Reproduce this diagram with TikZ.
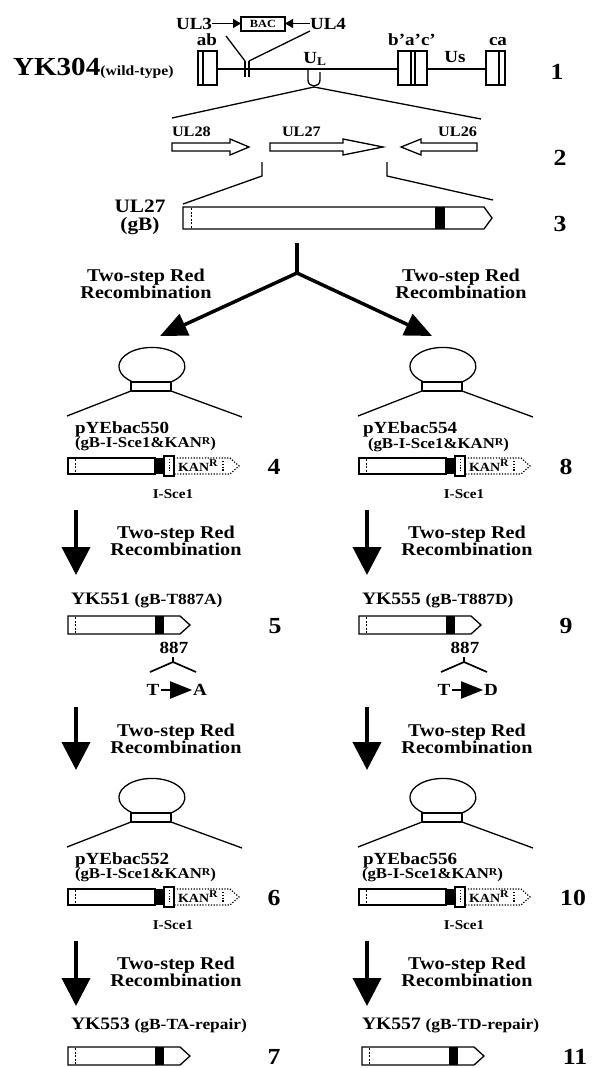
\documentclass[tikz,border=0pt]{standalone}
\usepackage{fontspec}
\setmainfont{Liberation Serif}[FakeStretch=1.12]
\usetikzlibrary{arrows.meta}
\newcommand\fsz[1]{\fontsize{#1}{#1}\selectfont}
\tikzset{
  tx/.style={font=\bfseries\fsz{#1}, inner sep=0pt, outer sep=0pt},
  ln/.style={line width=1.3pt},
  dotl/.style={line width=1.2pt, dash pattern=on 1.2pt off 1.6pt},
  dashl/.style={line width=0.5pt, dash pattern=on 2pt off 1.5pt},
  bigarr/.style={line width=3.5pt, -{Triangle[length=27pt,width=23pt]}},
  downarr/.style={line width=4pt, -{Triangle[length=28pt,width=28pt]}},
  smallarr/.style={line width=1.3pt, -{Triangle[length=8pt,width=9pt]}},
  tarr/.style={line width=2pt, -{Triangle[length=22pt,width=17pt]}},
}
% Two-step Red labels
\newcommand\tsr[3]{%
  \node[tx=18, anchor=base] (#1a) at (#2,#3) {Two-step Red};
  \node[tx=18, anchor=base] (#1b) at (#2,#3+17) {Recombination};}
% plasmid: name, cx, rect top
\newcommand\plas[3]{%
  \draw[ln] (#2-18,#3) arc[start angle=235, end angle=-55, x radius=33pt, y radius=19pt];
  \draw[ln, fill=white] (#2-20,#3) rectangle (#2+20,#3+9);
  \coordinate (#1l) at (#2-20,#3+9);
  \coordinate (#1r) at (#2+20,#3+9);
  \coordinate (#1L) at (#2-84,#3+34);
  \coordinate (#1R) at (#2+91,#3+35);
  \draw[ln] (#1l) -- (#1L);
  \draw[ln] (#1r) -- (#1R);}
% KAN construct: name, x0, ytop
\newcommand\kanc[3]{%
  \draw[ln, fill=white] (#2,#3) rectangle (#2+87,#3+16);
  \draw[dashl] (#2+7,#3+1) -- (#2+7,#3+15);
  \fill (#2+87,#3) rectangle (#2+96,#3+16);
  \draw[ln] (#2+96,#3-2) rectangle (#2+106,#3+18);
  \draw[dotl, line width=0.9pt] (#2+101,#3+1) -- (#2+101,#3+15);
  \draw[dotl] (#2+106,#3) -- (#2+162,#3) -- (#2+171,#3+8) -- (#2+162,#3+16) -- (#2+106,#3+16);
  \draw[dotl] (#2+155,#3+3) -- (#2+155,#3+13);
  \node[tx=12.5, anchor=base west] (#1k) at (#2+110,#3+13) {KAN\raisebox{5pt}{\fsz{10.5}R}};}
% simple construct: name, x0, ytop
\newcommand\simc[3]{%
  \draw[ln, fill=white] (#2,#3) -- (#2+112,#3) -- (#2+122,#3+9) -- (#2+112,#3+18) -- (#2,#3+18) -- cycle;
  \draw[dashl] (#2+7,#3+1) -- (#2+7,#3+17);
  \fill (#2+87,#3) rectangle (#2+96,#3+18);}
\begin{document}
\begin{tikzpicture}[x=1pt,y=-1pt]
\fill[white] (0,0) rectangle (600,1068);
\useasboundingbox (0,0) rectangle (600,1068);

% ---------------- Row 1 ----------------
\node[tx=26, anchor=base west] (yk304) at (13,75) {YK304\fsz{14}(wild-type)};
\draw[ln] (217,69) -- (398,69);
\draw[ln] (427,69) -- (486,69);
\draw[ln, fill=white] (198,51) rectangle (217,85);
\draw[ln] (203,51) -- (203,85);
\draw[ln, fill=white] (398,51) rectangle (427,85);
\draw[ln] (411,51) -- (411,85);
\draw[ln] (415,51) -- (415,85);
\draw[ln, fill=white] (486,51) rectangle (505,85);
\draw[ln] (499,51) -- (499,85);
\node[tx=17, anchor=base] (ab) at (207,45) {ab};
\node[tx=17, anchor=base] (bac2) at (412,45) {b'a'c'};
\node[tx=17, anchor=base] (ca) at (498,45) {ca};
\node[tx=17, anchor=base] (us) at (455,62) {Us};
\node[tx=17, anchor=base] (ul) at (315,63) {U\textsubscript{L}};
% BAC insertion
\node[tx=17, anchor=base east] (ul3) at (212,29) {UL3};
\node[tx=17, anchor=base west] (ul4) at (310,29) {UL4};
\node[draw, line width=1.2pt, minimum width=44pt, minimum height=14pt, tx=11] (bac) at (263,24) {BAC};
\draw[smallarr] (ul3.east) -- (ul3.east -| bac.west);
\draw[smallarr] (ul4.west) -- (ul4.west -| bac.east);
\draw[ln] (245,61) -- (245,77);
\draw[ln] (249,61) -- (249,77);
\coordinate (t3a) at (226,36);
\coordinate (t3b) at (245,61);
\coordinate (t4a) at (310,31);
\coordinate (t4b) at (249,61);
\draw[ln] (t3a) -- (t3b);
\draw[ln] (t4a) -- (t4b);
% U bracket and expansion
\draw[ln] (308,70) -- (308,80) .. controls (308,88) and (320,88) .. (320,80) -- (320,72);
\coordinate (ub) at (314,87);
\coordinate (e2l) at (172,118);
\coordinate (e2r) at (481,119);
\draw[ln] (ub) -- (e2l);
\draw[ln] (ub) -- (e2r);
\node[tx=23] (n1) at (557,72) {1};

% ---------------- Row 2 ----------------
\draw[ln, fill=white] (172,143) -- (230,143) -- (230,139) -- (249,147) -- (230,155) -- (230,151) -- (172,151) -- cycle;
\draw[ln, fill=white] (270,143) -- (343,143) -- (343,139) -- (383,147) -- (343,155) -- (343,151) -- (270,151) -- cycle;
\draw[ln, fill=white] (477,143) -- (421,143) -- (421,139) -- (401,147) -- (421,155) -- (421,151) -- (477,151) -- cycle;
\node[tx=14.5, anchor=base west] (ul28) at (172,136) {UL28};
\node[tx=14.5, anchor=base west] (ul27) at (282,136) {UL27};
\node[tx=14.5, anchor=base east] (ul26) at (477,136) {UL26};
\node[tx=23] (n2) at (560,158) {2};
\coordinate (b2l) at (262,162);
\coordinate (b2r) at (387,162);
\draw[ln] (b2l) -- (262,176) -- (183,204);
\draw[ln] (b2r) -- (387,176) -- (493,200);

% ---------------- Row 3 ----------------
\node[tx=19, anchor=base] (g27) at (140,212) {UL27};
\node[tx=19, anchor=base] (g27b) at (140,230) {(gB)};
\draw[ln, fill=white] (183,207) -- (484,207) -- (492,218) -- (484,229) -- (183,229) -- cycle;
\draw[dashl] (191,208) -- (191,228);
\fill (435,207) rectangle (445,229);
\node[tx=23] (n3) at (560,224) {3};

% ---------------- Fork ----------------
\coordinate (f0) at (297,243);
\coordinate (f1) at (297,273);
\coordinate (fl) at (160,336);
\coordinate (fr) at (432,336);
\draw[line width=3.5pt] (f0) -- (f1);
\draw[bigarr] (f1) -- (fl);
\draw[bigarr] (f1) -- (fr);
\tsr{fkl}{146}{281}
\tsr{fkr}{461}{281}

% ---------------- Row 4 / 8 ----------------
\plas{p4}{151}{382}
\plas{p8}{442}{382}
\node[tx=17, anchor=base west] (pye550) at (75,433) {pYEbac550};
\node[tx=15, anchor=base west] (pye550b) at (75,447) {(gB-I-Sce1\&KAN\raisebox{3pt}{\fsz{10.5}R})};
\node[tx=17, anchor=base west] (pye554) at (363,433) {pYEbac554};
\node[tx=15, anchor=base west] (pye554b) at (368,448) {(gB-I-Sce1\&KAN\raisebox{3pt}{\fsz{10.5}R})};
\kanc{c4}{68}{458}
\kanc{c8}{359}{458}
\node[tx=13.5, anchor=base] (is4) at (173,498) {I-Sce1};
\node[tx=13.5, anchor=base] (is8) at (464,498) {I-Sce1};
\node[tx=23] (n4) at (274,467) {4};
\node[tx=23] (n8) at (566,467) {8};

% arrow 1
\coordinate (a1ls) at (76,510); \coordinate (a1le) at (76,575);
\coordinate (a1rs) at (367,510); \coordinate (a1re) at (367,575);
\draw[downarr] (a1ls) -- (a1le);
\draw[downarr] (a1rs) -- (a1re);
\tsr{l1}{176}{538}
\tsr{r1}{467}{538}

% ---------------- Row 5 / 9 ----------------
\node[anchor=base west, tx=17.5] (yk551) at (71,604) {YK551 \fsz{15.5}(gB-T887A)};
\node[anchor=base west, tx=17.5] (yk555) at (362,604) {YK555 \fsz{15.5}(gB-T887D)};
\simc{c5}{68}{616}
\simc{c9}{359}{616}
\node[tx=23] (n5) at (275,626) {5};
\node[tx=23] (n9) at (566,626) {9};
\node[tx=17] (m5) at (174,648) {887};
\node[tx=17] (m9) at (465,648) {887};
\draw[line width=1.7pt] (150,672) -- (173,662) -- (196,672);
\draw[line width=1.5pt] (173,662) -- (173,657);
\draw[line width=1.7pt] (441,672) -- (464,662) -- (487,672);
\draw[line width=1.5pt] (464,662) -- (464,657);
\node[tx=17] (t5) at (153,690) {T};
\node[tx=17] (aa5) at (200,690) {A};
\node[tx=17] (t9) at (444,690) {T};
\node[tx=17] (dd9) at (491,690) {D};
\draw[tarr] ([xshift=2pt]t5.east) -- ([xshift=-1pt]aa5.west);
\draw[tarr] ([xshift=2pt]t9.east) -- ([xshift=-1pt]dd9.west);

% arrow 2
\coordinate (a2ls) at (76,707); \coordinate (a2le) at (76,770);
\coordinate (a2rs) at (367,707); \coordinate (a2re) at (367,770);
\draw[downarr] (a2ls) -- (a2le);
\draw[downarr] (a2rs) -- (a2re);
\tsr{l2}{176}{736}
\tsr{r2}{467}{736}

% ---------------- Row 6 / 10 ----------------
\plas{p6}{151}{813}
\plas{p10}{442}{813}
\node[tx=17, anchor=base west] (pye552) at (75,864) {pYEbac552};
\node[tx=15, anchor=base west] (pye552b) at (75,878) {(gB-I-Sce1\&KAN\raisebox{3pt}{\fsz{10.5}R})};
\node[tx=17, anchor=base west] (pye556) at (363,864) {pYEbac556};
\node[tx=15, anchor=base west] (pye556b) at (362,878) {(gB-I-Sce1\&KAN\raisebox{3pt}{\fsz{10.5}R})};
\kanc{c6}{68}{889}
\kanc{c10}{359}{889}
\node[tx=13.5, anchor=base] (is6) at (173,929) {I-Sce1};
\node[tx=13.5, anchor=base] (is10) at (464,929) {I-Sce1};
\node[tx=23] (n6) at (274,898) {6};
\node[tx=23] (n10) at (573,898) {10};

% arrow 3
\coordinate (a3ls) at (76,941); \coordinate (a3le) at (76,1006);
\coordinate (a3rs) at (367,941); \coordinate (a3re) at (367,1006);
\draw[downarr] (a3ls) -- (a3le);
\draw[downarr] (a3rs) -- (a3re);
\tsr{l3}{176}{969}
\tsr{r3}{467}{969}

% ---------------- Row 7 / 11 ----------------
\node[anchor=base west, tx=17.5] (yk553) at (71,1029) {YK553 \fsz{15.5}(gB-TA-repair)};
\node[anchor=base west, tx=17.5] (yk557) at (362,1029) {YK557 \fsz{15.5}(gB-TD-repair)};
\simc{c7}{68}{1047}
\simc{c11}{362}{1047}
\node[tx=23] (n7) at (274,1057) {7};
\node[tx=23] (n11) at (575,1057) {11};
\end{tikzpicture}
\end{document}
